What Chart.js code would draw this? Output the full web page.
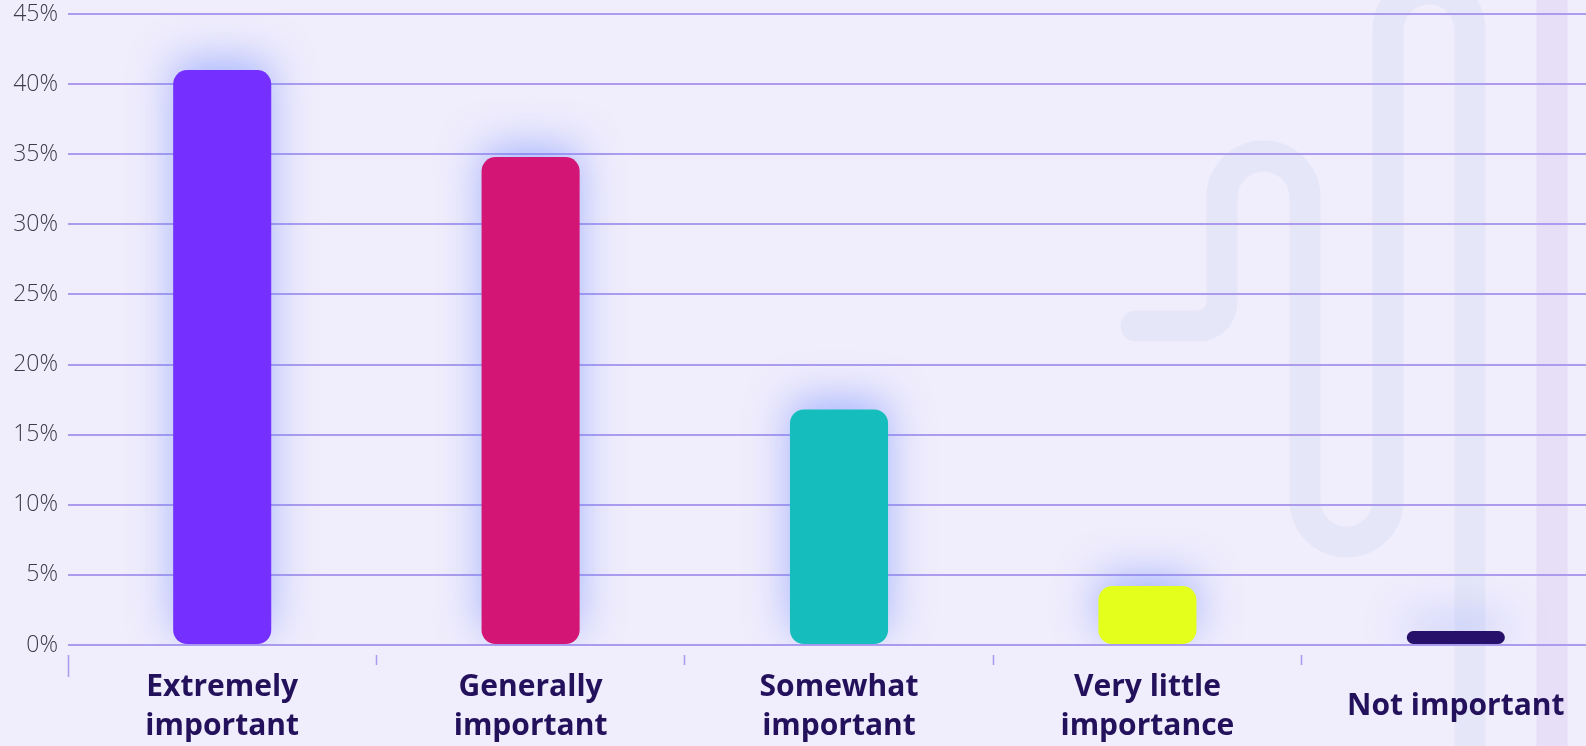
<!DOCTYPE html>
<html>
<head>
<meta charset="utf-8">
<title>Importance ratings</title>
<script src="https://cdn.jsdelivr.net/npm/chart.js@4.4.1/dist/chart.umd.min.js"></script>
<style>
  html, body { margin: 0; padding: 0; background: #f0edfc; overflow: hidden; }
  #wrap { position: relative; width: 1610px; height: 746px; }
</style>
</head>
<body>
<div id="wrap"><canvas id="chart"></canvas></div>
<script>
// Survey answers and their shares (%)
const categories = [
  ['Extremely', 'important'],
  ['Generally', 'important'],
  ['Somewhat', 'important'],
  ['Very little', 'importance'],
  'Not important'
];
const shares = [41, 34.8, 16.8, 4.2, 1];
const barColors = ['#7530ff', '#d31676', '#16bdbd', '#e3ff1b', '#26106a'];
const yTicks = [0, 5, 10, 15, 20, 25, 30, 35, 40, 45];

// Paints the page background and the faint pipe-shaped ornament behind the grid
const backdrop = {
  id: 'backdrop',
  beforeDraw(chart) {
    const ctx = chart.ctx;
    ctx.save();
    ctx.fillStyle = '#f0edfc';
    ctx.fillRect(0, 0, chart.width, chart.height);

    ctx.lineWidth = 31;
    ctx.lineCap = 'round';
    ctx.lineJoin = 'round';
    ctx.strokeStyle = '#e5e6f8';
    ctx.beginPath();
    ctx.moveTo(1136, 326);
    ctx.arcTo(1222, 326, 1222, 300, 24);
    ctx.lineTo(1222, 197.5);
    ctx.arc(1263.5, 197.5, 41.5, Math.PI, 0, false);
    ctx.lineTo(1305, 500.5);
    ctx.arc(1346.5, 500.5, 41.5, Math.PI, 0, true);
    ctx.lineTo(1388, 30);
    ctx.arc(1429, 30, 41, Math.PI, 0, false);
    ctx.lineTo(1470, 800);
    ctx.stroke();

    ctx.strokeStyle = '#e7def8';
    ctx.lineCap = 'butt';
    ctx.beginPath();
    ctx.moveTo(1552, -10);
    ctx.lineTo(1552, 800);
    ctx.stroke();
    ctx.restore();
  }
};

// Soft bluish halo around the bars
const barGlow = {
  id: 'barGlow',
  beforeDatasetsDraw(chart) {
    const ctx = chart.ctx;
    ctx.save();
    ctx.shadowColor = 'rgba(105, 135, 255, 0.55)';
    ctx.shadowBlur = 42;
    ctx.shadowOffsetX = 0;
    ctx.shadowOffsetY = -10;
  },
  afterDatasetsDraw(chart) {
    chart.ctx.restore();
  }
};

new Chart(document.getElementById('chart'), {
  type: 'bar',
  data: {
    labels: categories,
    datasets: [{
      data: shares,
      backgroundColor: barColors,
      borderRadius: 14,
      borderSkipped: false,
      barPercentage: 0.318,
      categoryPercentage: 1
    }]
  },
  plugins: [backdrop, barGlow],
  options: {
    responsive: true,
    maintainAspectRatio: false,
    animation: false,
    layout: { padding: { top: 14, left: 0, right: 0, bottom: 0 } },
    plugins: {
      legend: { display: false },
      tooltip: { enabled: false }
    },
    scales: {
      x: {
        offset: true,
        border: { display: false },
        grid: {
          offset: true,
          drawOnChartArea: false,
          drawTicks: true,
          tickLength: 34,
          tickWidth: 1.5,
          tickColor: '#a99cec',
          tickBorderDash: (c) => (c.index === undefined || c.index === 0) ? [0, 10, 22, 100] : [0, 10, 10, 100]
        },
        ticks: {
          color: '#23115c',
          padding: 8,
          crossAlign: 'center',
          maxRotation: 0,
          autoSkip: false,
          font: { family: 'Open Sans', size: 30, weight: 'bold', lineHeight: 1.3 }
        },
        afterFit(scale) { scale.height = 101; }
      },
      y: {
        min: 0,
        max: 45,
        border: { display: false },
        grid: {
          color: '#ad9cee',
          lineWidth: 2,
          drawTicks: false
        },
        afterBuildTicks(scale) {
          scale.ticks = yTicks.map(v => ({ value: v }));
        },
        ticks: {
          color: '#3c3b47',
          padding: 10,
          font: { family: 'Open Sans', size: 23, weight: '300' },
          callback: (v) => v + '%'
        },
        afterFit(scale) {
          scale.width = 68;
          scale.paddingTop = 0;
          scale.paddingBottom = 0;
        }
      }
    }
  }
});
</script>
</body>
</html>
